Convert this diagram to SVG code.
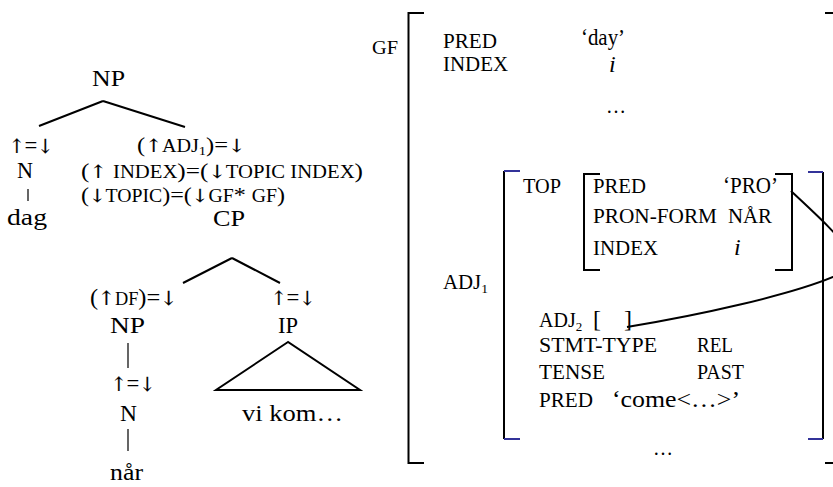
<svg xmlns="http://www.w3.org/2000/svg" width="833" height="487" viewBox="0 0 833 487">
<style>
text{font-family:"Liberation Serif","DejaVu Serif","Times New Roman",serif;fill:#000}
.t{font-size:24px}
.a{font-size:22px}
.s{font-size:18px}
.sub{font-size:13px}
.r{font-size:20px}
.big{font-size:24px}
.it{font-style:italic}
.ar{font-family:"DejaVu Serif",serif;font-size:0.82em;fill:#000;stroke:#000;stroke-width:0.2}
.ln{stroke:#000;stroke-width:2;fill:none}
.bar{stroke:#000;stroke-width:1.2;fill:none}
.br{stroke:#000;stroke-width:2;fill:none}
.blue{stroke:#333399;stroke-width:2;fill:none}
</style>
<rect width="833" height="487" fill="#fff"/>
<g id="connectors">
<path class="ln" d="M103,101 L39,126 M103,101 L185,127"/>
<path class="ln" d="M232,258 L183,283 M232,258 L280,283"/>
<path class="ln" d="M288,342 L216,390 L360,390 Z"/>
<path class="bar" d="M28,189 V201 M128,343 V368 M128,429 V451"/>
<path class="ln" d="M791,191 C840,237 870,262 833,277 C790,295 700,315 627,327"/>
</g>
<g id="np-top"><text class="t" x="92" y="86" textLength="33" lengthAdjust="spacingAndGlyphs">NP</text></g>
<g id="n-ann"><text class="t" x="9" y="153" textLength="44" lengthAdjust="spacingAndGlyphs"><tspan class="ar">↑</tspan>=<tspan class="ar">↓</tspan></text></g>
<g id="cp-ann">
<text class="a" x="137" y="152" textLength="108" lengthAdjust="spacingAndGlyphs">(<tspan class="ar">↑</tspan><tspan class="s">ADJ</tspan><tspan class="sub" dy="3">1</tspan><tspan dy="-3">)=</tspan><tspan class="ar">↓</tspan></text>
<text class="a" x="81" y="178" textLength="282" lengthAdjust="spacingAndGlyphs">(<tspan class="ar">↑</tspan> <tspan class="s">INDEX</tspan>)=(<tspan class="ar">↓</tspan><tspan class="s">TOPIC INDEX</tspan>)</text>
<text class="a" x="81" y="202" textLength="204" lengthAdjust="spacingAndGlyphs">(<tspan class="ar">↓</tspan><tspan class="s">TOPIC</tspan>)=(<tspan class="ar">↓</tspan><tspan class="s">GF</tspan>* <tspan class="s">GF</tspan>)</text>
</g>
<g id="n-top"><text class="t" x="17" y="178" textLength="16" lengthAdjust="spacingAndGlyphs">N</text></g>
<g id="dag"><text class="t" x="7" y="225" textLength="40" lengthAdjust="spacingAndGlyphs">dag</text></g>
<g id="cp"><text class="t" x="213" y="226" textLength="32" lengthAdjust="spacingAndGlyphs">CP</text></g>
<g id="np-ann"><text class="t" x="90" y="305" textLength="87" lengthAdjust="spacingAndGlyphs">(<tspan class="ar">↑</tspan><tspan class="s">DF</tspan>)=<tspan class="ar">↓</tspan></text></g>
<g id="ip-ann"><text class="t" x="271" y="305" textLength="44" lengthAdjust="spacingAndGlyphs"><tspan class="ar">↑</tspan>=<tspan class="ar">↓</tspan></text></g>
<g id="np"><text class="t" x="110" y="333" textLength="35" lengthAdjust="spacingAndGlyphs">NP</text></g>
<g id="ip"><text class="t" x="278" y="333" textLength="20" lengthAdjust="spacingAndGlyphs">IP</text></g>
<g id="n-ann2"><text class="t" x="111" y="391" textLength="44" lengthAdjust="spacingAndGlyphs"><tspan class="ar">↑</tspan>=<tspan class="ar">↓</tspan></text></g>
<g id="n"><text class="t" x="120" y="421" textLength="17" lengthAdjust="spacingAndGlyphs">N</text></g>
<g id="vikom"><text class="t" x="242" y="421" textLength="101" lengthAdjust="spacingAndGlyphs">vi kom…</text></g>
<g id="nar"><text class="t" x="110" y="480" textLength="33" lengthAdjust="spacingAndGlyphs">når</text></g>

<g id="fstructure">
<path class="br" d="M424,13 H408.5 V463 H424"/>
<path class="br" d="M825,13 H834 M825,463 H834"/>
<text class="r" x="372" y="54" style="font-size:18px" textLength="26" lengthAdjust="spacingAndGlyphs">GF</text>
<text class="r" x="443" y="48" textLength="54" lengthAdjust="spacingAndGlyphs">PRED</text>
<text class="big" x="581" y="45" textLength="44" lengthAdjust="spacingAndGlyphs">‘day’</text>
<text class="r" x="443" y="71" textLength="65" lengthAdjust="spacingAndGlyphs">INDEX</text>
<text class="big it" x="609" y="72">i</text>
<text class="r" x="606" y="113">…</text>
</g>
<g id="adj1">
<path class="br" d="M504,171 V439 M823,172 V439"/>
<path class="blue" d="M504,171 H520 M504,439 H520 M808,172 H823 M808,439 H823"/>
<text class="r" x="443" y="289" textLength="45" lengthAdjust="spacingAndGlyphs">ADJ<tspan class="sub" dy="4">1</tspan></text>
<text class="r" x="539" y="327">ADJ<tspan class="sub" dy="4">2</tspan><tspan class="big" x="593" dy="-4">[</tspan><tspan class="big" x="624">]</tspan></text>
<text class="r" x="539" y="352" textLength="118" lengthAdjust="spacingAndGlyphs">STMT-TYPE</text>
<text class="r" x="697" y="352" textLength="36" lengthAdjust="spacingAndGlyphs">REL</text>
<text class="r" x="539" y="379" textLength="66" lengthAdjust="spacingAndGlyphs">TENSE</text>
<text class="r" x="697" y="379" textLength="47" lengthAdjust="spacingAndGlyphs">PAST</text>
<text class="r" x="539" y="407" textLength="54" lengthAdjust="spacingAndGlyphs">PRED</text>
<text class="big" x="612" y="407" textLength="128" lengthAdjust="spacingAndGlyphs">‘come&lt;…&gt;’</text>
<text class="r" x="653" y="455">…</text>
</g>
<g id="top">
<path class="br" d="M600,174 H584 V270 H600 M775,174 H792 V270 H775"/>
<text class="r" x="523" y="193" textLength="38" lengthAdjust="spacingAndGlyphs">TOP</text>
<text class="r" x="593" y="193" textLength="53" lengthAdjust="spacingAndGlyphs">PRED</text>
<text class="big" x="723" y="193" textLength="55" lengthAdjust="spacingAndGlyphs">‘PRO’</text>
<text class="r" x="593" y="223" textLength="124" lengthAdjust="spacingAndGlyphs">PRON-FORM</text>
<text class="r" x="728" y="223" textLength="44" lengthAdjust="spacingAndGlyphs">NÅR</text>
<text class="r" x="593" y="255" textLength="65" lengthAdjust="spacingAndGlyphs">INDEX</text>
<text class="big it" x="734" y="255">i</text>
</g>
</svg>
